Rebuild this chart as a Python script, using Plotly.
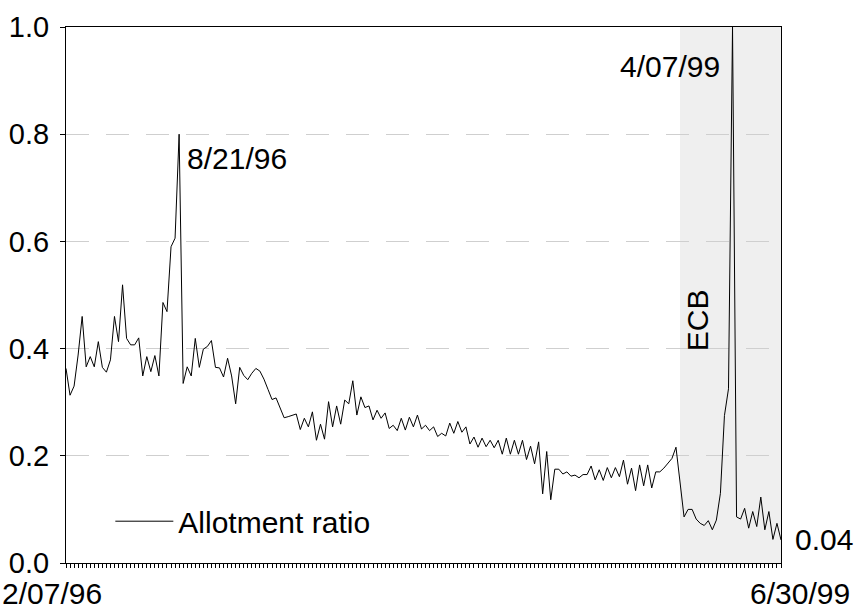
import pandas as pd
import plotly.graph_objects as go

# ---- data -------------------------------------------------------------
START_DATE = "1996-02-07"          # first weekly tender
ECB_START = "1999-01-06"           # start of the ECB period (shaded)
PEAK_1996 = "1996-08-21"
PEAK_1999 = "1999-04-07"

allotment_ratio = [
    0.363, 0.313, 0.330, 0.388, 0.460, 0.366, 0.385, 0.366, 0.413, 0.365,
    0.356, 0.379, 0.460, 0.413, 0.519, 0.419, 0.407, 0.407, 0.420, 0.349,
    0.385, 0.357, 0.387, 0.349, 0.486, 0.469, 0.590, 0.606, 0.800, 0.335,
    0.366, 0.349, 0.419, 0.365, 0.399, 0.404, 0.415, 0.365, 0.364, 0.347,
    0.382, 0.349, 0.297, 0.365, 0.350, 0.342, 0.354, 0.363, 0.358, 0.343,
    0.324, 0.305, 0.308, 0.289, 0.271, 0.273, 0.275, 0.278, 0.249, 0.270,
    0.254, 0.282, 0.229, 0.259, 0.231, 0.301, 0.254, 0.293, 0.259, 0.304,
    0.297, 0.340, 0.276, 0.310, 0.290, 0.293, 0.267, 0.285, 0.270, 0.280,
    0.251, 0.257, 0.247, 0.270, 0.248, 0.272, 0.254, 0.276, 0.250, 0.257,
    0.247, 0.254, 0.236, 0.242, 0.237, 0.261, 0.242, 0.264, 0.244, 0.254,
    0.222, 0.235, 0.216, 0.233, 0.217, 0.229, 0.215, 0.229, 0.203, 0.233,
    0.203, 0.229, 0.203, 0.229, 0.193, 0.218, 0.185, 0.226, 0.129, 0.208,
    0.118, 0.175, 0.175, 0.166, 0.170, 0.162, 0.164, 0.159, 0.165, 0.165,
    0.181, 0.155, 0.174, 0.154, 0.178, 0.159, 0.178, 0.161, 0.192, 0.147,
    0.177, 0.135, 0.183, 0.144, 0.183, 0.140, 0.170, 0.170, 0.177, 0.186,
    0.195, 0.216, 0.150, 0.086, 0.100, 0.100, 0.082, 0.074, 0.070, 0.079,
    0.062, 0.080, 0.130, 0.275, 0.325, 1.000, 0.086, 0.082, 0.102, 0.065,
    0.096, 0.068, 0.123, 0.062, 0.096, 0.044, 0.074, 0.043,
]

dates = pd.date_range(START_DATE, periods=len(allotment_ratio), freq="7D")

y_ticks = [0.0, 0.2, 0.4, 0.6, 0.8, 1.0]
first_label = "2/07/96"
last_label = "6/30/99"
last_value_label = "0.04"
series_name = "Allotment ratio"

# major x ticks: first observation in every even month
df = pd.DataFrame({"d": dates})
df["ym"] = df["d"].dt.to_period("M")
major = df[df["d"].dt.month % 2 == 0].groupby("ym")["d"].first().tolist()

FAMILY = "Liberation Sans, Arial, sans-serif"
FONT = dict(family=FAMILY, size=30, color="black")
TICKFONT = dict(family=FAMILY, size=29, color="black")

fig = go.Figure()
fig.add_trace(go.Scatter(
    x=dates, y=allotment_ratio, mode="lines", name=series_name,
    line=dict(color="black", width=1),
))

fig.add_shape(type="rect", xref="x", yref="paper",
              x0=pd.Timestamp(ECB_START), x1=dates[-1], y0=0, y1=1,
              fillcolor="#efefef", line=dict(width=0), layer="below")

fig.add_annotation(x=pd.Timestamp(PEAK_1996), y=0.754, xref="x", yref="y",
                   text="8/21/96", showarrow=False, xanchor="left",
                   yanchor="middle", xshift=6, font=FONT)
fig.add_annotation(x=pd.Timestamp(PEAK_1999), y=0.927, xref="x", yref="y",
                   text="4/07/99", showarrow=False, xanchor="right",
                   yanchor="middle", xshift=-11, font=FONT)
fig.add_annotation(x=0.8825, y=0.453, xref="paper", yref="y",
                   text="ECB", showarrow=False, textangle=-90,
                   xanchor="center", yanchor="middle", font=FONT)
fig.add_annotation(x=1, y=allotment_ratio[-1], xref="paper", yref="y",
                   text=last_value_label, showarrow=False, xanchor="left",
                   yanchor="middle", xshift=12, font=FONT)
fig.add_annotation(x=-66 / 715, y=0, xref="paper", yref="paper",
                   text=first_label, showarrow=False, xanchor="left",
                   yanchor="top", yshift=-12, font=FONT)
fig.add_annotation(x=1.0995, y=0, xref="paper", yref="paper",
                   text=last_label, showarrow=False, xanchor="right",
                   yanchor="top", yshift=-12, font=FONT)

fig.update_layout(
    width=859, height=612,
    margin=dict(l=66, r=78, t=27, b=49, autoexpand=False),
    paper_bgcolor="white", plot_bgcolor="white",
    font=FONT,
    showlegend=True,
    legend=dict(x=0.062, y=0.078, xanchor="left", yanchor="middle",
                bgcolor="rgba(0,0,0,0)", font=FONT, itemwidth=58),
    xaxis=dict(
        range=[dates[0], dates[-1]],
        showline=True, linecolor="black", linewidth=1, mirror=True,
        showgrid=False, zeroline=False,
        tickmode="array", tickvals=major, ticktext=[""] * len(major),
        ticks="outside", ticklen=8, tickcolor="black", tickwidth=1,
        minor=dict(tickmode="array", tickvals=list(dates), ticks="outside",
                   ticklen=4, tickcolor="black", tickwidth=1, showgrid=False),
    ),
    yaxis=dict(
        range=[0, 1],
        showline=True, linecolor="black", linewidth=1, mirror=True,
        tickmode="array", tickvals=y_ticks,
        ticktext=[f"{v:.1f}" for v in y_ticks], tickfont=TICKFONT,
        ticks="outside", ticklen=5, tickcolor="black", ticklabelstandoff=5,
        showgrid=True, gridcolor="#cfcfcf", gridwidth=1, griddash="23px,17px",
        zeroline=False,
    ),
)

fig.write_html("out.html",
               config={"displayModeBar": False},
               post_script="document.body.style.margin='0';")
